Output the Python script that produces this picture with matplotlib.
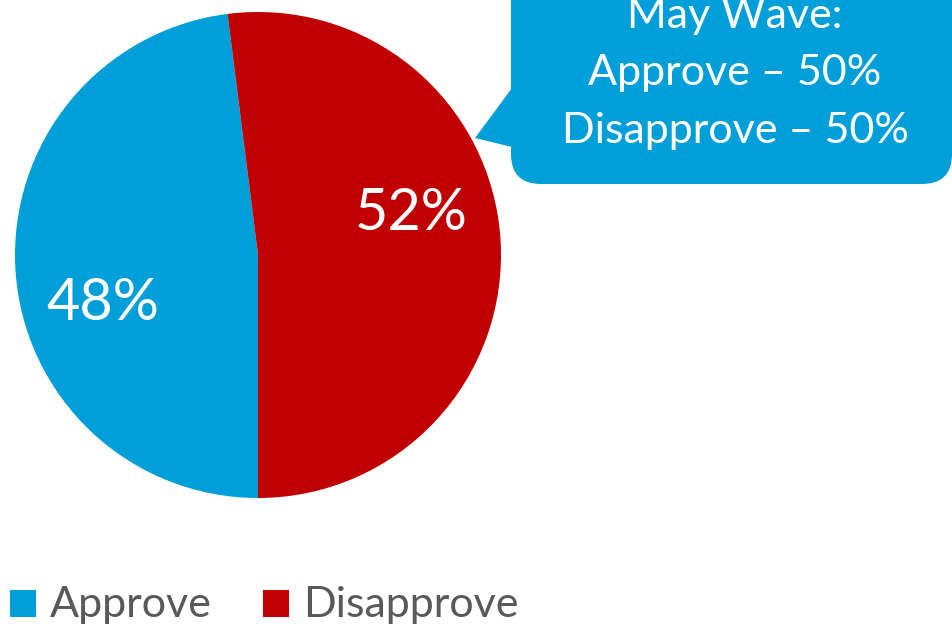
import matplotlib
matplotlib.use("Agg")
import matplotlib.pyplot as plt
from matplotlib.patches import FancyBboxPatch, Polygon

categories = ["Approve", "Disapprove"]
values = [48, 52]
colors = ["#009FDA", "#C00000"]
pct_labels = ["48%", "52%"]
callout_lines = ["May Wave:", "Approve \u2013 50%", "Disapprove \u2013 50%"]

W, H = 952, 627
fig = plt.figure(figsize=(W / 100, H / 100), dpi=100)
ax = fig.add_axes([0, 0, 1, 1])

font = "Lato"

def Y(y):
    return H - y

cx, cy, r = 258, Y(255), 243
ax.pie(values, colors=colors, startangle=90 + 360 * (values[1] / 100 - 0.5),
       counterclock=True, center=(cx, cy), radius=r,
       wedgeprops=dict(linewidth=0), frame=True)
ax.set_xlim(0, W)
ax.set_ylim(0, H)
ax.set_aspect("equal")
ax.axis("off")

# percentage labels
ax.text(411, Y(213), pct_labels[1], color="white", fontsize=41.5, family=font,
        ha="center", va="center")
ax.text(103, Y(303), pct_labels[0], color="white", fontsize=41.5, family=font,
        ha="center", va="center")

# callout
box = FancyBboxPatch((511, Y(184)), 441, 260, boxstyle="round,pad=0,rounding_size=30",
                     facecolor="#009FDA", edgecolor="none", clip_on=False)
ax.add_patch(box)
ax.add_patch(Polygon([(512, Y(88)), (475, Y(138)), (512, Y(147))], closed=True,
                     facecolor="#009FDA", edgecolor="none"))
for i, line in enumerate(callout_lines):
    ax.text(735, Y(28 + 57.5 * i), line, color="white", fontsize=31, family=font,
            ha="center", va="baseline")

# legend
lx = [10, 263]
for i, (cat, col) in enumerate(zip(categories, colors)):
    ax.add_patch(plt.Rectangle((lx[i], Y(617)), 26, 27, facecolor=col, edgecolor="none"))
    ax.text(lx[i] + 40, Y(617), cat, color="#595959", fontsize=31, family=font,
            ha="left", va="baseline")

fig.savefig("out.png", dpi=100)
